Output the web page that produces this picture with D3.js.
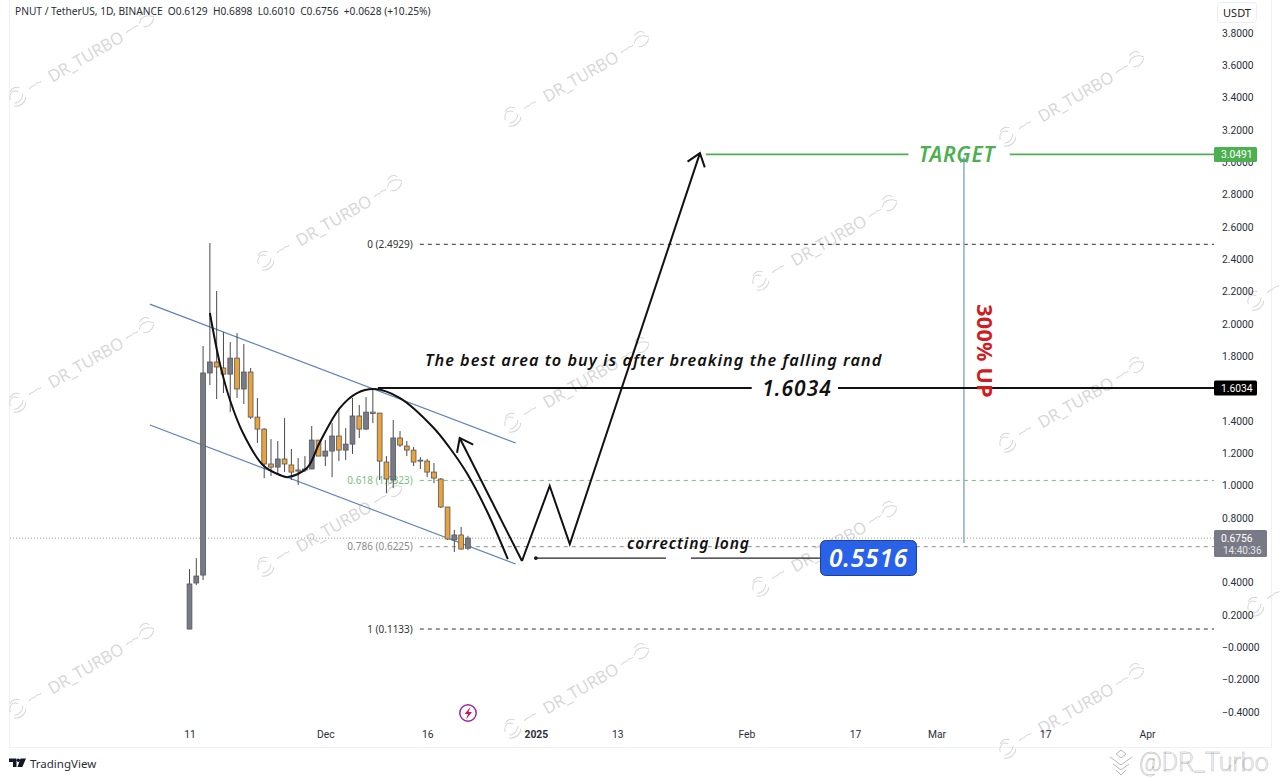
<!DOCTYPE html>
<html>
<head>
<meta charset="utf-8">
<script src="https://d3js.org/d3.v7.min.js"></script>
<style>
html, body { margin: 0; background: #fff; }
svg { display: block; font-family: Roboto, sans-serif; }
.axis text { font-family: Roboto, sans-serif; font-size: 10.3px; fill: #2a2e39; }
.axis path, .axis line { display: none; }
.hand { font-family: "Noto Sans", sans-serif; font-weight: 600; font-style: italic; }
.wm text { font-family: "Open Sans", sans-serif; font-size: 16.5px; fill: #d6d6d6; }
.wm path { fill: none; stroke: #d6d6d6; stroke-width: 1; }
</style>
</head>
<body>
<div id="chart"></div>
<script>
// daily candles, first one is 11 Nov 2024
var firstDay = "2024-11-11";
var opens = [0.113,0.398,0.447,1.697,1.765,1.728,1.690,1.789,1.598,1.703,1.424,1.350,1.134,1.115,1.165,1.128,1.097,1.097,1.103,1.282,1.183,1.214,1.307,1.220,1.257,1.431,1.350,1.455,1.449,1.146,1.035,1.295,1.245,1.220,1.158,1.152,1.084,1.041,0.868,0.664,0.695,0.6129];
var highs = [0.484,0.552,1.864,2.501,2.204,1.950,1.888,1.944,1.876,1.728,1.542,1.356,1.288,1.276,1.418,1.227,1.171,1.183,1.369,1.282,1.282,1.387,1.480,1.356,1.542,1.499,1.548,1.604,1.449,1.183,1.406,1.338,1.276,1.239,1.177,1.165,1.140,1.047,0.868,0.726,0.744,0.6898];
var lows = [0.113,0.385,0.416,1.622,1.536,1.573,1.455,1.542,1.505,1.412,1.264,1.047,1.060,1.066,1.084,1.035,1.004,1.084,1.103,1.183,1.121,1.053,1.152,1.158,1.196,1.295,1.344,1.387,1.035,0.954,0.985,1.239,1.183,1.121,1.103,1.053,1.016,0.862,0.664,0.590,0.605,0.6010];
var closes = [0.392,0.441,1.697,1.765,1.734,1.690,1.789,1.598,1.703,1.424,1.350,1.134,1.115,1.165,1.134,1.084,1.090,1.103,1.282,1.183,1.214,1.307,1.220,1.257,1.431,1.350,1.455,1.446,1.152,1.041,1.295,1.251,1.220,1.146,1.152,1.084,1.047,0.868,0.670,0.695,0.608,0.6756];

var priceTicks = [3.8,3.6,3.4,3.2,3.0,2.8,2.6,2.4,2.2,2.0,1.8,1.6,1.4,1.2,1.0,0.8,0.4,0.2,0,-0.2,-0.4];
var priceLabels = ["3.8000","3.6000","3.4000","3.2000","3.0000","2.8000","2.6000","2.4000","2.2000","2.0000","1.8000","1.6000","1.4000","1.2000","1.0000","0.8000","0.4000","0.2000","\u22120.0000","\u22120.2000","\u22120.4000"];
var timeDates = ["2024-11-11","2024-12-01","2024-12-16","2025-01-01","2025-01-13","2025-02-01","2025-02-17","2025-03-01","2025-03-17","2025-04-01"];
var timeLabels = ["11","Dec","16","2025","13","Feb","17","Mar","17","Apr"];

var fibLevels = [2.4929,1.0323,0.6225,0.1133];
var fibLabels = ["0 (2.4929)","0.618 (1.0323)","0.786 (0.6225)","1 (0.1133)"];
var fibColors = ["#333","#7cbf80","#8a8a8a","#333"];

// hand drawn stuff as [days after first candle, price]
var channelUpper = [[-5.82,2.123],[48.08,1.264]];
var channelLower = [[-5.82,1.375],[48.08,0.515]];
var curve = [[3.02,2.068],[4.49,1.758],[5.96,1.530],[7.88,1.326],[10.82,1.128],[13.33,1.066],[14.5,1.053],[17.3,1.109],[19.22,1.27],[22.16,1.48],[24.67,1.573],[27.32,1.598],[31,1.542],[35.86,1.363],[38.36,1.233],[40.86,1.078],[43.8,0.843],[46.9,0.546]];
var bounceArrow = [[48.96,0.534],[39.83,1.295]];
var zigzag = [[48.96,0.534],[53.08,0.998],[56.03,0.639],[75.17,3.057]];
var upArrow = [[114.05,0.645],[114.05,3.027]];

var target = 3.0491, resistance = 1.6034, entry = 0.5516, lastPrice = 0.6756;

var width = 1280, height = 779;
var plotRight = 1214;

var parseDay = d3.utcParse("%Y-%m-%d");
var start = parseDay(firstDay);

var x = d3.scaleUtc()
  .domain([start, parseDay("2025-04-01")])
  .range([189.5, 1147]);
var y = d3.scaleLinear()
  .domain([3.8, -0.4])
  .range([33, 712]);

function dayX(n) { return x(d3.utcHour.offset(start, n * 24)); }

var svg = d3.select("#chart").append("svg")
  .attr("width", width)
  .attr("height", height);

// panel edges
svg.append("path")
  .attr("d", "M9.5 0V747.5H1271.5V0")
  .attr("fill", "none")
  .attr("stroke", "#eef0f3");

// watermarks
var wmLayer = svg.append("g");
for (var r = 0; r < 5; r++) {
  for (var c = -1; c < 4; c++) {
    var wx = 83 + c * 495 + (r % 2 ? 248 : 0);
    var wy = 58 + r * 153 + c * 20 + (r % 2 ? 11 : 0);
    if (wx < -80 || wx > 1360) continue;
    var wm = wmLayer.append("g").attr("class", "wm")
      .attr("transform", "translate(" + wx + "," + wy + ") rotate(-30)");
    // the last column only shows its left flourish
    if (wx < 1280) {
      wm.append("text").attr("text-anchor", "middle").attr("y", 6).attr("x", 3).text("DR_TURBO");
      wm.append("path").attr("d", "M50 0c3 -3 5 1 8 -1c2 -2 4 2 6 0M66 -2c6 -6 12 -3 16 2M68 3c4 3 10 2 13 -2M70 -8c3 -3 8 -2 10 2");
    }
    wm.append("path").attr("d", "M-84 0c2 -7 8 -8 11 -3M-82 5c4 2 10 0 12 -4M-80 -7c3 -3 8 -2 10 1M-84 7c5 4 12 3 15 -2M-62 0c3 -3 5 1 8 -1c2 -2 4 2 6 0");
  }
}

// fib levels
var fibStart = 33.94;
fibLevels.forEach(function(level, i) {
  svg.append("line")
    .attr("x1", dayX(fibStart)).attr("x2", plotRight)
    .attr("y1", y(level)).attr("y2", y(level))
    .attr("stroke", fibColors[i])
    .attr("stroke-width", 1)
    .attr("stroke-dasharray", "4 4");
  svg.append("text")
    .attr("x", dayX(fibStart) - 7)
    .attr("y", y(level) + 3.5)
    .attr("text-anchor", "end")
    .attr("font-size", 10)
    .attr("font-family", "Noto Sans, sans-serif")
    .attr("fill", fibColors[i])
    .text(fibLabels[i]);
});

// last price dotted line
svg.append("line")
  .attr("x1", 10).attr("x2", plotRight)
  .attr("y1", y(lastPrice)).attr("y2", y(lastPrice))
  .attr("stroke", "#9a9a9a")
  .attr("stroke-dasharray", "1 2");

// channel
var line = d3.line().x(function(d) { return dayX(d[0]); }).y(function(d) { return y(d[1]); });
[channelUpper, channelLower].forEach(function(pts) {
  svg.append("path").attr("d", line(pts)).attr("fill", "none")
    .attr("stroke", "#5b7fc0").attr("stroke-width", 1.1);
});

// candles
var candles = svg.append("g").selectAll("g")
  .data(opens.map(function(o, i) { return {i: i, o: o, h: highs[i], l: lows[i], c: closes[i]}; }))
  .enter().append("g");
candles.append("line")
  .attr("x1", function(d) { return dayX(d.i); })
  .attr("x2", function(d) { return dayX(d.i); })
  .attr("y1", function(d) { return y(d.h); })
  .attr("y2", function(d) { return y(d.l); })
  .attr("stroke", "#4a4a4a");
candles.append("rect")
  .attr("x", function(d) { return dayX(d.i) - 2.4; })
  .attr("width", 4.8)
  .attr("y", function(d) { return y(Math.max(d.o, d.c)); })
  .attr("height", function(d) { return Math.max(1, Math.abs(y(d.o) - y(d.c))); })
  .attr("fill", function(d) { return d.c >= d.o ? "#787b86" : "#e8a33a"; })
  .attr("stroke", "#55565c")
  .attr("stroke-width", 0.8);

// black drawings
var smooth = d3.line().curve(d3.curveCatmullRom.alpha(0.5))
  .x(function(d) { return dayX(d[0]); }).y(function(d) { return y(d[1]); });
svg.append("path").attr("d", smooth(curve)).attr("fill", "none")
  .attr("stroke", "#111").attr("stroke-width", 2);

function arrow(pts, colour, w, size) {
  svg.append("path").attr("d", line(pts)).attr("fill", "none")
    .attr("stroke", colour).attr("stroke-width", w).attr("stroke-linejoin", "miter");
  var a = pts[pts.length - 2], b = pts[pts.length - 1];
  var bx = dayX(b[0]), by = y(b[1]);
  var ang = Math.atan2(y(a[1]) - by, dayX(a[0]) - bx);
  var spread = 0.65;
  svg.append("path")
    .attr("d", "M" + (bx + size * Math.cos(ang + spread)) + " " + (by + size * Math.sin(ang + spread)) +
      "L" + bx + " " + by +
      "L" + (bx + size * Math.cos(ang - spread)) + " " + (by + size * Math.sin(ang - spread)))
    .attr("fill", "none").attr("stroke", colour).attr("stroke-width", w);
}
arrow(bounceArrow, "#111", 2, 15);
arrow(zigzag, "#111", 2, 15);
arrow(upArrow, "#8fb1cf", 1.6, 6);

// horizontal levels with a gap for the label
function level(price, segs, colour, w) {
  segs.forEach(function(s) {
    svg.append("line")
      .attr("x1", dayX(s[0])).attr("x2", s[1] === null ? plotRight : dayX(s[1]))
      .attr("y1", y(price)).attr("y2", y(price))
      .attr("stroke", colour).attr("stroke-width", w);
  });
}
level(target, [[76.06,105.9],[120.8,null]], "#4caf50", 1.6);
level(resistance, [[27.76,82.83],[95.5,null]], "#111", 2);
level(entry, [[51.02,70.17],[73.85,92.84]], "#222", 1.2);
svg.append("circle").attr("cx", dayX(51.02)).attr("cy", y(entry)).attr("r", 1.8).attr("fill", "#111");

function hand(txt, xp, yp, size, colour, anchor, spacing) {
  return svg.append("text").attr("class", "hand")
    .attr("x", xp).attr("y", yp).attr("font-size", size)
    .attr("letter-spacing", spacing || 0)
    .attr("fill", colour).attr("text-anchor", anchor || "start").text(txt);
}
hand("The best area to buy is after breaking the falling rand", 425, 366, 16.3, "#111", "start", 1);
hand("1.6034", 797, y(resistance) + 7.5, 21, "#111", "middle", 1);
hand("TARGET", 957, y(target) + 7.5, 21, "#4caf50", "middle", 0.8);
hand("correcting long", 627, 549, 15.6, "#111", "start", 0.9);

svg.append("text")
  .attr("transform", "translate(977," + 351 + ") rotate(90)")
  .attr("text-anchor", "middle")
  .attr("font-family", "Noto Sans, sans-serif")
  .attr("font-size", 21.5)
  .attr("font-weight", 700)
  .attr("letter-spacing", 0.3)
  .attr("fill", "#d01c1f")
  .text("300% UP");

// entry box
svg.append("rect").attr("x", 820.5).attr("y", 540.5).attr("width", 96).attr("height", 35)
  .attr("rx", 5).attr("fill", "#2962e8").attr("stroke", "#1c3f9c");
hand("0.5516", 868.5, y(entry) + 9, 24.5, "#fff", "middle", 0.8);

// axes
var yAxis = d3.axisRight(y).tickValues(priceTicks).tickSize(0).tickPadding(8)
  .tickFormat(function(d, i) { return priceLabels[i]; });
svg.append("g").attr("class", "axis")
  .attr("transform", "translate(" + plotRight + ",0)")
  .call(yAxis);

var xAxis = d3.axisBottom(x).tickValues(timeDates.map(parseDay)).tickSize(0).tickPadding(0)
  .tickFormat(function(d, i) { return timeLabels[i]; });
svg.append("g").attr("class", "axis")
  .attr("transform", "translate(0,731)")
  .call(xAxis)
  .selectAll("text")
  .attr("font-weight", function(d, i) { return timeLabels[i] === "2025" ? "bold" : null; });

// price tags
function tag(price, label, colour, w) {
  var g = svg.append("g");
  g.append("rect").attr("x", plotRight).attr("y", y(price) - 7.5).attr("width", w).attr("height", 15)
    .attr("rx", 1.5).attr("fill", colour);
  g.append("text").attr("x", plotRight + 7).attr("y", y(price) + 3.7)
    .attr("font-size", 10.3).attr("fill", "#fff").text(label);
}
tag(target, "3.0491", "#4caf50", 43);
tag(resistance, "1.6034", "#000", 43);

svg.append("rect").attr("x", plotRight).attr("y", 530).attr("width", 53).attr("height", 27)
  .attr("rx", 1.5).attr("fill", "#787b86");
svg.append("text").attr("x", plotRight + 7).attr("y", 542).attr("font-size", 10.3).attr("fill", "#fff").text("0.6756");
svg.append("text").attr("x", plotRight + 9).attr("y", 554).attr("font-size", 10).attr("fill", "#e4e4e8").text("14:40:36");

// currency button
svg.append("rect").attr("x", 1217.5).attr("y", 2.5).attr("width", 39).attr("height", 20)
  .attr("rx", 3).attr("fill", "#fff").attr("stroke", "#eceef2");
svg.append("text").attr("x", 1237).attr("y", 16.5).attr("text-anchor", "middle")
  .attr("font-family", "Noto Sans, sans-serif").attr("font-size", 11).attr("fill", "#222").text("USDT");

// header
svg.append("text").attr("x", 15).attr("y", 14.5)
  .attr("font-family", "Noto Sans, sans-serif").attr("font-size", 10.2).attr("fill", "#2a2e39")
  .attr("xml:space", "preserve")
  .text("PNUT / TetherUS, 1D, BINANCE  O0.6129  H0.6898  L0.6010  C0.6756  +0.0628 (+10.25%)");

// lightning icon
svg.append("circle").attr("cx", 468).attr("cy", 713).attr("r", 8.2)
  .attr("fill", "#fff").attr("stroke", "#9c27b0").attr("stroke-width", 1.5);
svg.append("path").attr("d", "M470.5 707L464.5 714H468L466 719.5L472 712H468.5Z").attr("fill", "#c2185b");

// tradingview logo
svg.append("path").attr("d", "M9 758.5h7.5v8.5h-3.5v-5h-4zM20.5 758.5h5.5l-3.7 8.5h-4.8z").attr("fill", "#131722");
svg.append("circle").attr("cx", 18.3).attr("cy", 760.2).attr("r", 1.7).attr("fill", "#131722");
svg.append("text").attr("x", 30).attr("y", 768).attr("font-family", "Noto Sans, sans-serif")
  .attr("font-size", 11.5).attr("fill", "#2a2e39").text("TradingView");

// bottom right handle
svg.append("text").attr("x", 1139).attr("y", 771)
  .attr("font-family", "Roboto, sans-serif").attr("font-size", 25).attr("font-weight", 300)
  .attr("fill", "#fff").attr("stroke", "#b5b5b5").attr("stroke-width", 0.5).text("@DR_Turbo");
svg.append("path")
  .attr("d", "M1121 750l-5 4 5 4 5 -4zM1110 757l11 8 11 -8M1113 764l8 6 8 -6M1116 770l5 5 5 -5")
  .attr("fill", "none").attr("stroke", "#b5b5b5");
</script>
</body>
</html>
